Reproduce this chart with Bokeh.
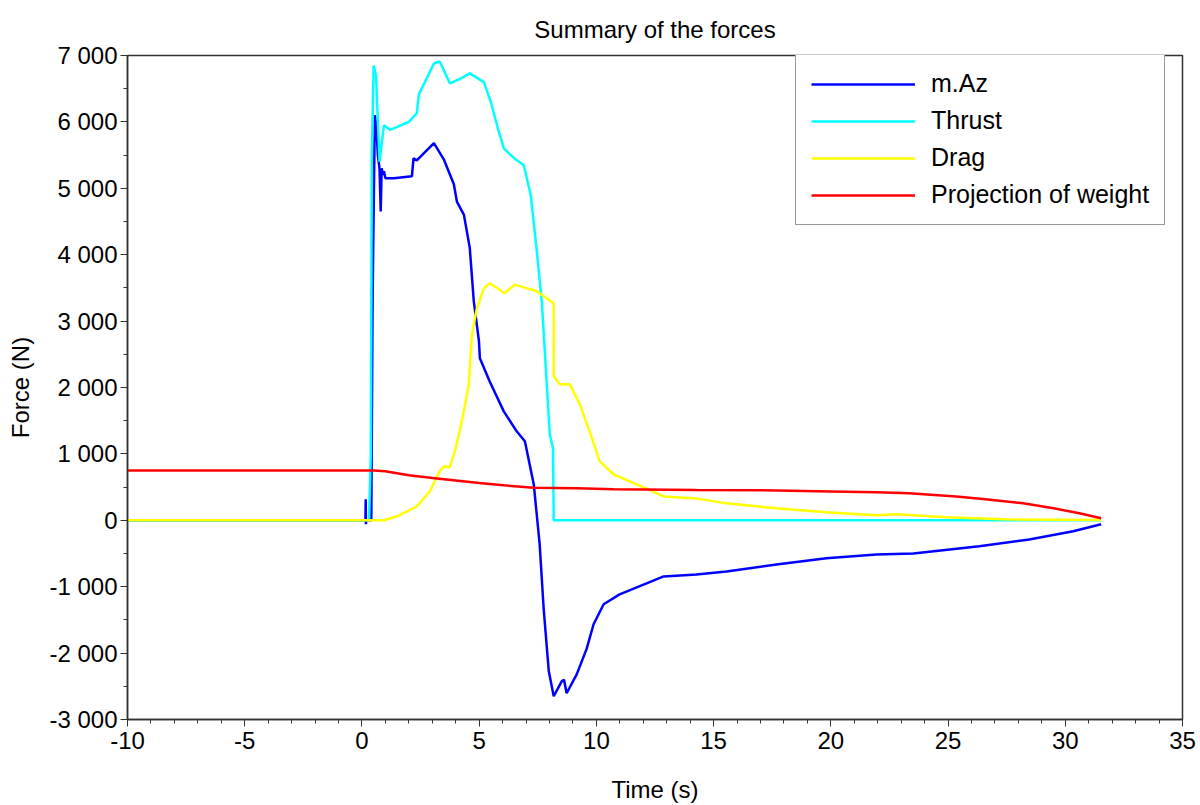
from bokeh.plotting import figure
from bokeh.models import Range1d, Legend, LegendItem, SingleIntervalTicker, CustomJSTickFormatter
from bokeh.embed import file_html
from bokeh.resources import INLINE

# ---- data ----
t_maz = [-10, 0.15, 0.16, 0.17, 0.18, 0.20, 0.40, 0.45, 0.47, 0.55, 0.62, 0.68, 0.75, 0.80, 0.84,
         0.90, 0.94, 1.0, 1.36, 2.13, 2.2, 2.34, 2.7, 3.07, 3.49, 3.92, 4.05, 4.35, 4.60, 4.77,
         4.99, 5.03, 5.45, 6.05, 6.60, 6.95, 7.33, 7.58, 7.75, 7.97, 8.18, 8.52, 8.62, 8.73, 9.16,
         9.59, 9.88, 10.31, 10.99, 12.14, 12.87, 14.27, 15.55, 17.68, 19.81, 21.94, 23.52, 26.33,
         28.46, 30.34, 31.53]
f_maz = [0, 0, 316, -60, 0, 0, 0, 3100, 3800, 6100, 5900, 5500, 5300, 4650, 5300,
         5200, 5256, 5150, 5150, 5180, 5450, 5420, 5550, 5680, 5437, 5060, 4800, 4600, 4100, 3300,
         2700, 2440, 2090, 1640, 1340, 1190, 540, -360, -1325, -2275, -2650, -2425, -2400, -2605, -2320,
         -1930, -1565, -1265, -1115, -950, -845, -815, -770, -665, -570, -515, -500, -390,
         -290, -165, -60]

t_thrust = [-10, 0.30, 0.38, 0.42, 0.50, 0.60, 0.75, 0.94, 1.2, 2.0, 2.34, 2.43, 3.07, 3.32,
            3.75, 4.2, 4.6, 5.2, 5.5, 5.8, 6.05, 6.5, 6.9, 7.2, 7.46, 7.67, 7.8, 8.01, 8.15,
            8.18, 31.53]
f_thrust = [0, 0, 1000, 5500, 6850, 6700, 5400, 5950, 5880, 6000, 6130, 6415, 6880, 6910,
            6580, 6650, 6730, 6600, 6300, 5900, 5600, 5450, 5350, 4900, 4050, 3300, 2545, 1300, 1080,
            0, 0]

t_drag = [-10, 0.94, 1.5, 2.34, 2.9, 3.32, 3.5, 3.75, 4.0, 4.26, 4.56, 4.69, 4.9, 5.2, 5.45,
          6.09, 6.52, 7.46, 8.18, 8.18, 8.44, 8.86, 9.29, 9.71, 10.14, 10.74, 11.72, 12.87,
          14.27, 15.55, 17.68, 19.81, 21.94, 22.8, 24.9, 27.4, 31.53]
f_drag = [0, 0, 60, 210, 437, 740, 813, 800, 1084, 1490, 2050, 2800, 3190, 3490, 3570,
          3420, 3550, 3450, 3270, 2170, 2050, 2050, 1750, 1340, 890, 690, 540, 360,
          330, 255, 180, 120, 75, 90, 45, 15, 5]

t_weight = [-10, 0.5, 1.0, 2.0, 3.2, 5.0, 6.05, 7.33, 9.16, 10.74, 14.27, 17.68, 20.0, 21.94,
            23.35, 25.35, 26.6, 28.2, 29.5, 30.6, 31.53]
f_weight = [750, 750, 740, 680, 630, 560, 527, 490, 482, 467, 455, 450, 435, 422,
            407, 360, 316, 256, 180, 105, 30]

series_names = ["m.Az", "Thrust", "Drag", "Projection of weight"]
series_colors = ["#0000ff", "#00ffff", "#ffff00", "#ff0000"]
title_text = "Summary of the forces"

FONT = "Liberation Sans"
FS = "24px"

p = figure(width=1200, height=805, output_backend="svg", toolbar_location=None,
           x_range=Range1d(-10, 35), y_range=Range1d(-3000, 7000),
           min_border_left=127, min_border_right=18, min_border_bottom=86, min_border_top=55,
           title=title_text)
p.grid.visible = False
p.outline_line_color = "#333333"
p.outline_line_width = 1.5
p.background_fill_color = "white"
p.border_fill_color = "white"

p.title.align = "center"
p.title.text_font = FONT
p.title.text_font_size = FS
p.title.text_font_style = "normal"
p.title.text_color = "#000000"
p.title.standoff = 25

renderers = []
for tx, fy, c in [(t_maz, f_maz, series_colors[0]), (t_thrust, f_thrust, series_colors[1]),
                  (t_drag, f_drag, series_colors[2]), (t_weight, f_weight, series_colors[3])]:
    r = p.line(tx, fy, line_color=c, line_width=2.5)
    renderers.append(r)

fmt = CustomJSTickFormatter(code="""
var s = Math.round(tick).toString();
var neg = s[0] === '-';
if (neg) s = s.slice(1);
s = s.replace(/\\B(?=(\\d{3})+(?!\\d))/g, ' ');
return (neg ? '-' : '') + s;
""")

xa = p.below[0]
xa.ticker = SingleIntervalTicker(interval=5, num_minor_ticks=5)
xa.formatter = fmt
xa.axis_label = "Time (s)"
ya = p.left[0]
ya.ticker = SingleIntervalTicker(interval=1000, num_minor_ticks=2)
ya.formatter = fmt
ya.axis_label = "Force (N)"

for ax in (xa, ya):
    ax.axis_line_color = "#333333"
    ax.axis_line_width = 1.5
    ax.major_tick_line_color = "#333333"
    ax.minor_tick_line_color = "#333333"
    ax.major_tick_in = 0
    ax.major_tick_out = 7
    ax.minor_tick_in = 0
    ax.minor_tick_out = 4
    ax.major_label_text_font = FONT
    ax.major_label_text_font_size = FS
    ax.major_label_text_color = "#000000"
    ax.axis_label_text_font = FONT
    ax.axis_label_text_font_size = FS
    ax.axis_label_text_font_style = "normal"
    ax.axis_label_text_color = "#000000"
xa.major_label_standoff = 5
xa.axis_label_standoff = 24
ya.major_label_standoff = 3
ya.axis_label_standoff = 12

items = [LegendItem(label=n, renderers=[r]) for n, r in zip(series_names, renderers)]
legend = Legend(items=items, location=(668, 494))
legend.glyph_width = 104
legend.glyph_height = 28
legend.label_height = 28
legend.label_standoff = 16
legend.label_text_font = FONT
legend.label_text_font_size = "25px"
legend.label_text_color = "#000000"
legend.spacing = 8
legend.padding = 15
legend.margin = 0
legend.border_line_color = "#333333"
legend.border_line_width = 1.5
legend.background_fill_color = "white"
legend.background_fill_alpha = 1
p.add_layout(legend, "center")

open("out.html", "w").write(file_html(p, INLINE))
